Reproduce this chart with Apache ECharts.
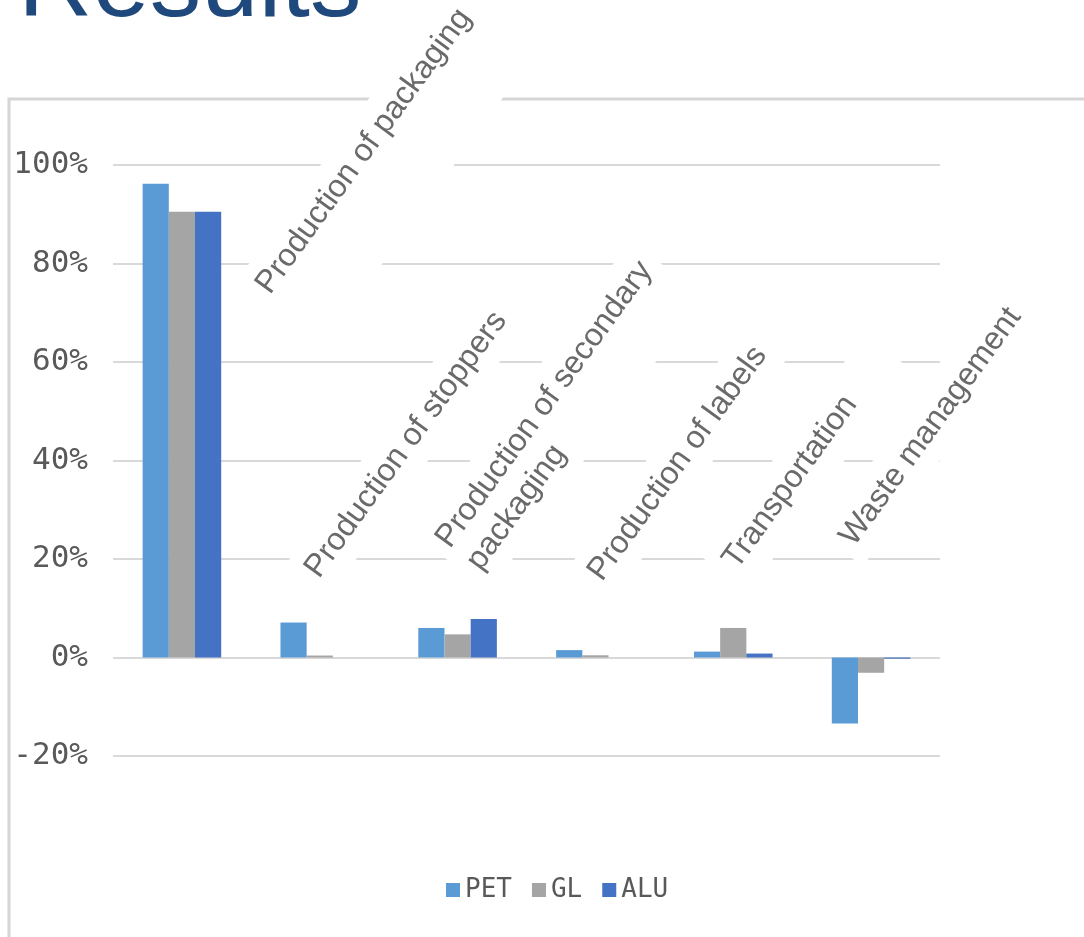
<!DOCTYPE html>
<html><head><meta charset="utf-8">
<script src="https://cdn.jsdelivr.net/npm/echarts@6/dist/echarts.min.js"></script>
<style>html,body{margin:0;padding:0;background:#fff}#c{width:1084px;height:937px}</style>
</head><body><div id="c"></div>
<script>
// ---- data ----
const categories = ['Production of packaging', 'Production of stoppers', 'Production of secondary packaging', 'Production of labels', 'Transportation', 'Waste management'];
const categoryDisplay = ['Production of packaging', 'Production of stoppers', 'Production of secondary\npackaging', 'Production of labels', 'Transportation', 'Waste management'];
const seriesNames = ['PET', 'GL', 'ALU'];
const petValues = [96.2, 7.1, 6.0, 1.5, 1.2, -13.4];
const glValues = [90.5, 0.4, 4.7, 0.45, 6.0, -3.1];
const aluValues = [90.5, 0, 7.8, 0, 0.8, -0.25];
const yTickLabels = ['-20%', '0%', '20%', '40%', '60%', '80%', '100%'];
const titleText = 'Results';

// ---- layout / style ----
const colors = ['#5B9BD5', '#A5A5A5', '#4472C4'];
const textGray = '#595959';
const labelAngle = 54 * Math.PI / 180;
const labelFont = 32;
const labelLH = 38;
// baseline start of each rotated category label, and box paddings [t,r,b,l]
const labelLayout = [
  { x: 271, y: 296, pad: [8, 14, 62, 10] },
  { x: 320, y: 580, pad: [8, 10, 8, 10] },
  { x: 451, y: 550, pad: [8, 10, 8, 10] },
  { x: 603, y: 583, pad: [8, 10, 8, 10] },
  { x: 738, y: 571, pad: [8, 60, 12, 10] },
  { x: 855, y: 548, pad: [8, 10, 8, 10] }
];

const chart = echarts.init(document.getElementById('c'), null, { renderer: 'canvas' });

const labelGraphics = categoryDisplay.map((txt, i) => {
  const L = labelLayout[i];
  return {
    type: 'group', x: L.x, y: L.y, rotation: labelAngle, z: 1,
    children: [{
      type: 'text', z: 1,
      x: -L.pad[3],
      y: -(labelFont * 0.31 + labelLH / 2) - L.pad[0],
      style: {
        text: txt, fill: '#6a6a6a',
        font: labelFont + 'px "Liberation Sans", Arial, sans-serif',
        lineHeight: labelLH, align: 'left', verticalAlign: 'top',
        backgroundColor: '#ffffff', padding: L.pad
      }
    }]
  };
});

const option = {
  backgroundColor: '#ffffff',
  animation: false,
  color: colors,
  grid: { left: 113, right: 144, top: 165, bottom: 181, containLabel: false },
  legend: {
    data: seriesNames, left: 441, top: 872,
    itemWidth: 14, itemHeight: 14, itemGap: 20,
    icon: 'rect',
    textStyle: { color: textGray, fontFamily: '"DejaVu Sans Mono", monospace', fontSize: 26, padding: [0, 0, 0, 0] }
  },
  xAxis: {
    type: 'category', data: categories,
    axisLabel: { show: false }, axisTick: { show: false },
    axisLine: { show: false }, splitLine: { show: false }
  },
  yAxis: {
    type: 'value', min: -20, max: 100, interval: 20,
    axisLine: { show: false }, axisTick: { show: false },
    axisLabel: {
      color: textGray, fontSize: 31, margin: 25,
      fontFamily: '"DejaVu Sans Mono", monospace',
      formatter: (v) => yTickLabels[Math.round((v + 20) / 20)]
    },
    splitLine: { lineStyle: { color: '#d9d9d9', width: 2 } }
  },
  series: [
    { name: seriesNames[0], type: 'bar', data: petValues, barGap: '0%', barCategoryGap: '43%', z: 2 },
    { name: seriesNames[1], type: 'bar', data: glValues, barGap: '0%', barCategoryGap: '43%', z: 2 },
    { name: seriesNames[2], type: 'bar', data: aluValues, barGap: '0%', barCategoryGap: '43%', z: 2 }
  ],
  graphic: [
    {
      type: 'rect', z: 0,
      shape: { x: 9, y: 99, width: 1200, height: 1000 },
      style: { fill: 'none', stroke: '#d6d6d6', lineWidth: 3 }
    },
    {
      type: 'text', z: 0, x: 18, y: -12,
      style: {
        text: titleText, fill: '#1F497D',
        font: '103px "Liberation Sans", Arial, sans-serif',
        align: 'left', verticalAlign: 'middle'
      }
    }
  ].concat(labelGraphics)
};
chart.setOption(option);
</script>
</body></html>
